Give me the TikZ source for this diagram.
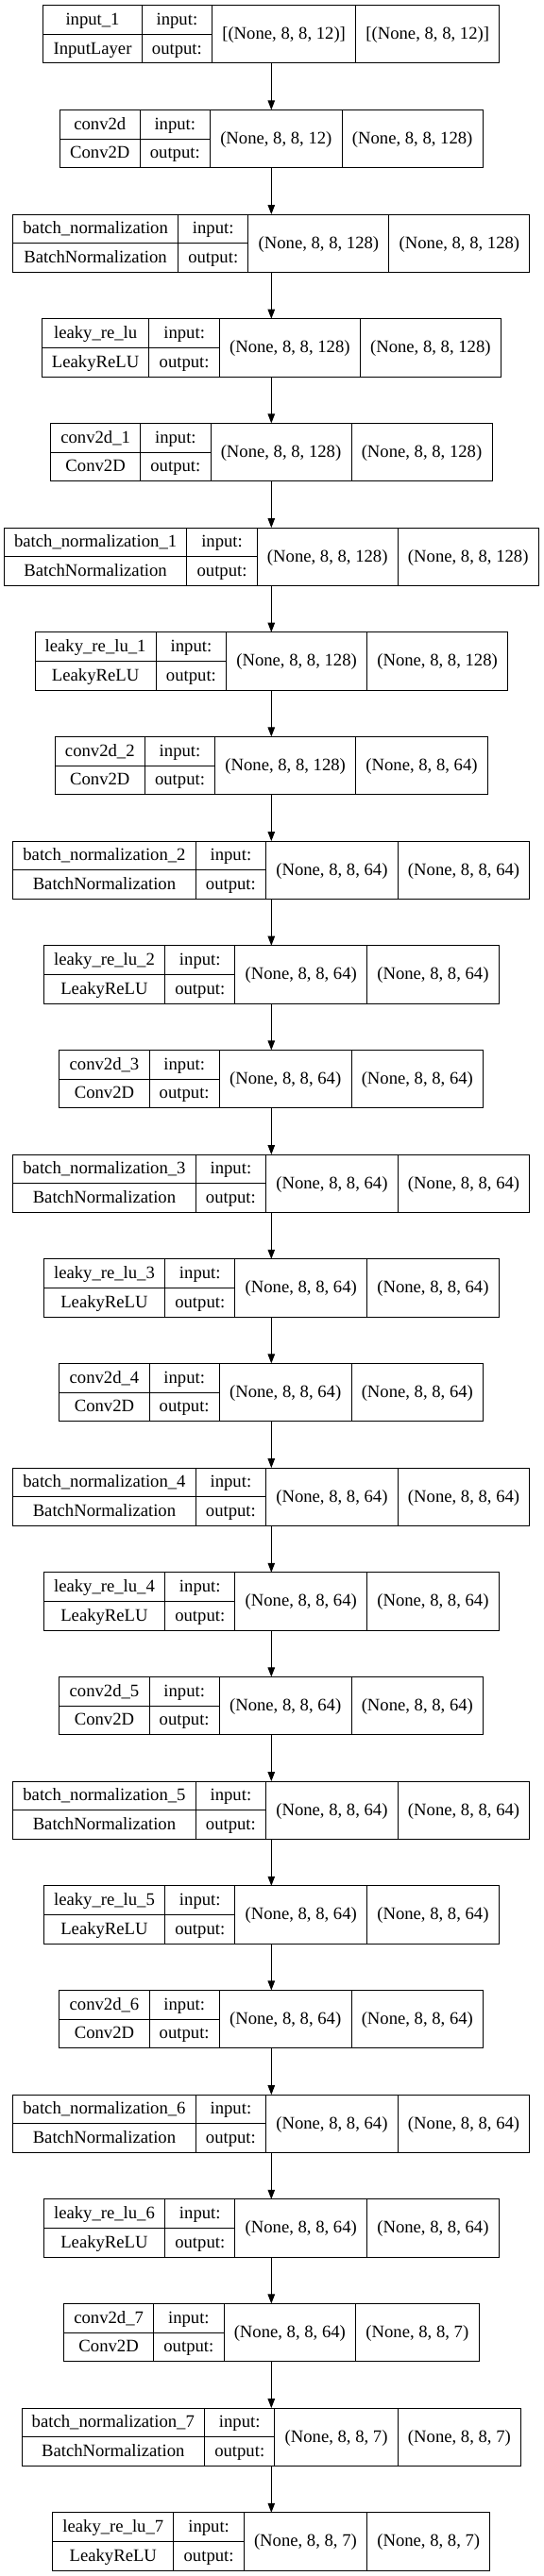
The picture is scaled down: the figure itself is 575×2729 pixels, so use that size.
\documentclass[tikz,border=0pt]{standalone}
\usepackage{fontspec}
\setmainfont{Liberation Serif}
\usetikzlibrary{arrows.meta}
\newlength\cwa \newlength\cwb \newlength\cwc \newlength\cwd \newlength\cwt \newlength\ctmp
\newcommand\cellfont{\fontsize{14pt}{16pt}\selectfont}
\newcommand\padw{16.1pt}
\newcommand\measureText[2]{%
  \pgfinterruptpicture
    \setbox0\hbox{\normalfont\cellfont #2}%
    \global#1=\wd0
  \endpgfinterruptpicture}
\tikzset{
  frame/.style={draw, line width=0.75pt, inner sep=0pt, outer sep=0pt, minimum height=45.975pt},
  cell/.style={draw, line width=0.75pt, inner sep=0pt, outer sep=0pt, minimum height=22.9875pt,
    text height=11pt, text depth=3pt, font=\cellfont},
  arr/.style={line width=0.75pt, -{Triangle[length=7.5pt,width=5.6pt]}}
}
\newcommand\kerasLayer[6]{%
  \measureText\cwa{#3}\measureText\ctmp{#4}%
  \ifdim\ctmp>\cwa \cwa=\ctmp \fi
  \addtolength\cwa{\padw}%
  \measureText\cwb{output:}\addtolength\cwb{\padw}%
  \measureText\cwc{#5}\addtolength\cwc{\padw}%
  \measureText\cwd{#6}\addtolength\cwd{\padw}%
  \cwt=\cwa \advance\cwt\cwb \advance\cwt\cwc \advance\cwt\cwd
  \pgfmathsetmacro\yc{36.35+#2*110.67}%
  \node[frame, minimum width=\cwt] (#1) at (287.3,\yc) {};
  \node[cell, minimum width=\cwa, anchor=north west] (#1-name) at (#1.north west) {#3};
  \node[cell, minimum width=\cwa, anchor=north west] (#1-class) at (#1-name.south west) {#4};
  \node[cell, minimum width=\cwb, anchor=north west] (#1-inl) at (#1-name.north east) {input:};
  \node[cell, minimum width=\cwb, anchor=north west] (#1-outl) at (#1-inl.south west) {output:};
  \node[cell, minimum width=\cwc, minimum height=45.975pt, anchor=north west] (#1-in) at (#1-inl.north east) {#5};
  \node[cell, minimum width=\cwd, minimum height=45.975pt, anchor=north west] (#1-out) at (#1-in.north east) {#6};
}
\begin{document}
\begin{tikzpicture}[x=0.75pt,y=-0.75pt]
\fill[white] (0,0) rectangle (575,2729);
\useasboundingbox (0,0) rectangle (575,2729);
\kerasLayer{l0}{0}{input\_1}{InputLayer}{[(None, 8, 8, 12)]}{[(None, 8, 8, 12)]}
\kerasLayer{l1}{1}{conv2d}{Conv2D}{(None, 8, 8, 12)}{(None, 8, 8, 128)}
\kerasLayer{l2}{2}{batch\_normalization}{BatchNormalization}{(None, 8, 8, 128)}{(None, 8, 8, 128)}
\kerasLayer{l3}{3}{leaky\_re\_lu}{LeakyReLU}{(None, 8, 8, 128)}{(None, 8, 8, 128)}
\kerasLayer{l4}{4}{conv2d\_1}{Conv2D}{(None, 8, 8, 128)}{(None, 8, 8, 128)}
\kerasLayer{l5}{5}{batch\_normalization\_1}{BatchNormalization}{(None, 8, 8, 128)}{(None, 8, 8, 128)}
\kerasLayer{l6}{6}{leaky\_re\_lu\_1}{LeakyReLU}{(None, 8, 8, 128)}{(None, 8, 8, 128)}
\kerasLayer{l7}{7}{conv2d\_2}{Conv2D}{(None, 8, 8, 128)}{(None, 8, 8, 64)}
\kerasLayer{l8}{8}{batch\_normalization\_2}{BatchNormalization}{(None, 8, 8, 64)}{(None, 8, 8, 64)}
\kerasLayer{l9}{9}{leaky\_re\_lu\_2}{LeakyReLU}{(None, 8, 8, 64)}{(None, 8, 8, 64)}
\kerasLayer{l10}{10}{conv2d\_3}{Conv2D}{(None, 8, 8, 64)}{(None, 8, 8, 64)}
\kerasLayer{l11}{11}{batch\_normalization\_3}{BatchNormalization}{(None, 8, 8, 64)}{(None, 8, 8, 64)}
\kerasLayer{l12}{12}{leaky\_re\_lu\_3}{LeakyReLU}{(None, 8, 8, 64)}{(None, 8, 8, 64)}
\kerasLayer{l13}{13}{conv2d\_4}{Conv2D}{(None, 8, 8, 64)}{(None, 8, 8, 64)}
\kerasLayer{l14}{14}{batch\_normalization\_4}{BatchNormalization}{(None, 8, 8, 64)}{(None, 8, 8, 64)}
\kerasLayer{l15}{15}{leaky\_re\_lu\_4}{LeakyReLU}{(None, 8, 8, 64)}{(None, 8, 8, 64)}
\kerasLayer{l16}{16}{conv2d\_5}{Conv2D}{(None, 8, 8, 64)}{(None, 8, 8, 64)}
\kerasLayer{l17}{17}{batch\_normalization\_5}{BatchNormalization}{(None, 8, 8, 64)}{(None, 8, 8, 64)}
\kerasLayer{l18}{18}{leaky\_re\_lu\_5}{LeakyReLU}{(None, 8, 8, 64)}{(None, 8, 8, 64)}
\kerasLayer{l19}{19}{conv2d\_6}{Conv2D}{(None, 8, 8, 64)}{(None, 8, 8, 64)}
\kerasLayer{l20}{20}{batch\_normalization\_6}{BatchNormalization}{(None, 8, 8, 64)}{(None, 8, 8, 64)}
\kerasLayer{l21}{21}{leaky\_re\_lu\_6}{LeakyReLU}{(None, 8, 8, 64)}{(None, 8, 8, 64)}
\kerasLayer{l22}{22}{conv2d\_7}{Conv2D}{(None, 8, 8, 64)}{(None, 8, 8, 7)}
\kerasLayer{l23}{23}{batch\_normalization\_7}{BatchNormalization}{(None, 8, 8, 7)}{(None, 8, 8, 7)}
\kerasLayer{l24}{24}{leaky\_re\_lu\_7}{LeakyReLU}{(None, 8, 8, 7)}{(None, 8, 8, 7)}
\foreach \i in {0,...,23} {
  \pgfmathtruncatemacro\j{\i+1}
  \draw[arr] (l\i.south) -- (l\j.north);
}
\end{tikzpicture}
\end{document}
